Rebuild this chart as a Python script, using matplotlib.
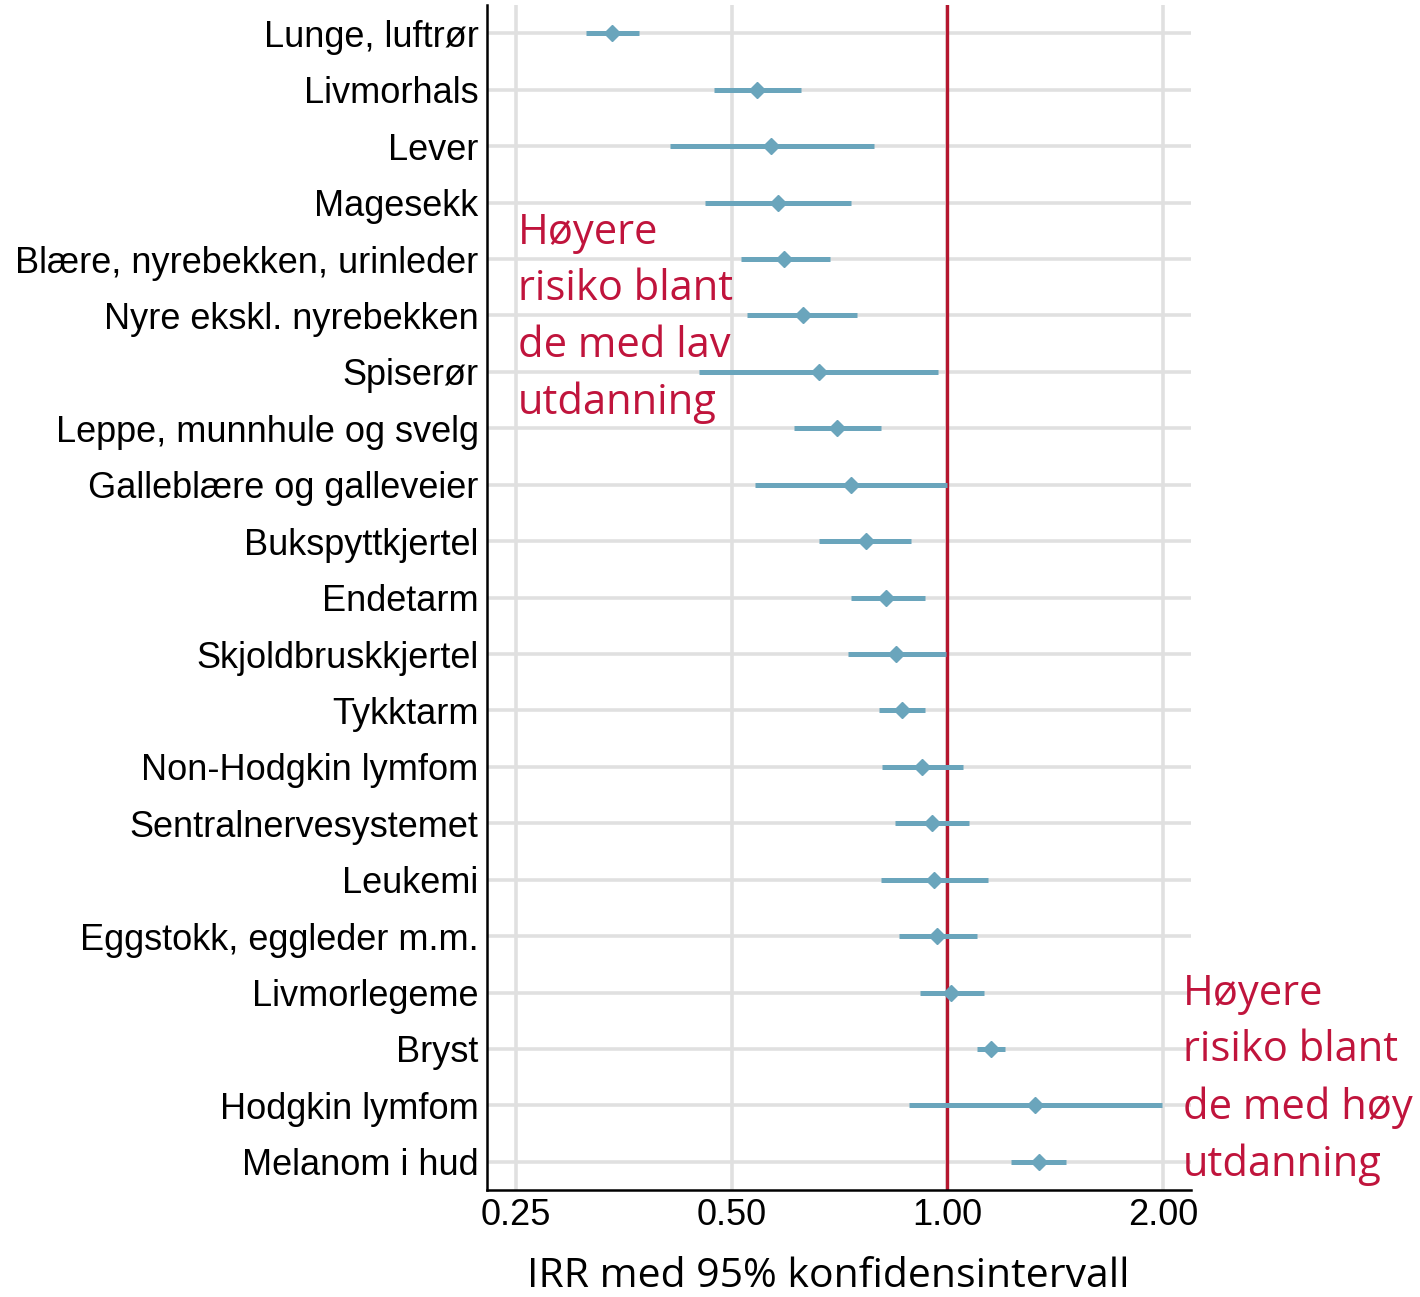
import numpy as np
import matplotlib
matplotlib.use("Agg")
import matplotlib.pyplot as plt
from matplotlib.ticker import FixedLocator, FixedFormatter, NullLocator

# data, top to bottom as in the chart
cancer_types = ["Lunge, luftrør", "Livmorhals", "Lever", "Magesekk",
                "Blære, nyrebekken, urinleder", "Nyre ekskl. nyrebekken",
                "Spiserør", "Leppe, munnhule og svelg", "Galleblære og galleveier",
                "Bukspyttkjertel", "Endetarm", "Skjoldbruskkjertel", "Tykktarm",
                "Non-Hodgkin lymfom", "Sentralnervesystemet", "Leukemi",
                "Eggstokk, eggleder m.m.", "Livmorlegeme", "Bryst",
                "Hodgkin lymfom", "Melanom i hud"]
irr = [0.341, 0.542, 0.567, 0.580, 0.591, 0.630, 0.663, 0.702, 0.735, 0.769,
       0.820, 0.849, 0.865, 0.923, 0.953, 0.959, 0.968, 1.013, 1.152, 1.326, 1.343]
ci_low = [0.313, 0.472, 0.410, 0.459, 0.515, 0.526, 0.451, 0.612, 0.540, 0.663,
          0.735, 0.726, 0.804, 0.812, 0.846, 0.807, 0.857, 0.917, 1.101, 0.885, 1.228]
ci_high = [0.372, 0.624, 0.789, 0.733, 0.687, 0.749, 0.972, 0.807, 1.000, 0.891,
           0.932, 0.997, 0.932, 1.053, 1.073, 1.141, 1.101, 1.126, 1.205, 1.990, 1.465]
x_ticks = [0.25, 0.5, 1.0, 2.0]
x_ticklabels = ["0.25", "0.50", "1.00", "2.00"]

blue = "#6AA5BC"
red = "#B5172F"
txt_red = "#C0143C"
grid = "#E0E0E0"

fig = plt.figure(figsize=(14.2, 12.97), dpi=100)
ax = fig.add_axes([0.343, 0.0825, 0.496, 0.9135])

n = len(cancer_types)
ypos = np.arange(n)[::-1]

ax.set_xscale("log", base=2)
ax.set_xlim(0.228, 2.19)
ax.set_ylim(-0.5, n - 0.5)

# grid
for t in x_ticks:
    ax.axvline(t, color=grid, lw=2.6, zorder=0)
for y in ypos:
    ax.axhline(y, color=grid, lw=2.6, zorder=0)

ax.axvline(1.0, color=red, lw=2.4, zorder=1)

ax.hlines(ypos, ci_low, ci_high, color=blue, lw=3.6, zorder=2)
ax.plot(irr, ypos, ls="none", marker="D", ms=8.5, color=blue, zorder=3)

ax.xaxis.set_major_locator(FixedLocator(x_ticks))
ax.xaxis.set_major_formatter(FixedFormatter(x_ticklabels))
ax.xaxis.set_minor_locator(NullLocator())
ax.set_yticks(ypos)
ax.set_yticklabels(cancer_types)
ax.tick_params(axis="both", length=0, labelsize=26, pad=6, labelcolor="black")
for lab in ax.get_xticklabels() + ax.get_yticklabels():
    lab.set_fontfamily("Liberation Sans")

for s in ["top", "right"]:
    ax.spines[s].set_visible(False)
for s in ["left", "bottom"]:
    ax.spines[s].set_linewidth(1.8)
    ax.spines[s].set_color("black")

ax.set_xlabel("IRR med 95% konfidensintervall", fontsize=29.5, family="Open Sans")
ax.xaxis.set_label_coords(0.485, -0.056)

left_note = "Høyere\nrisiko blant\nde med lav\nutdanning"
right_note = "Høyere\nrisiko blant\nde med høy\nutdanning"
fig.text(518 / 1420, 1 - 212 / 1297, left_note, color=txt_red, fontsize=30,
         family="Open Sans", va="top", ha="left", linespacing=1.45)
fig.text(1183 / 1420, 1 - 973 / 1297, right_note, color=txt_red, fontsize=30,
         family="Open Sans", va="top", ha="left", linespacing=1.45)

fig.savefig("out.png", dpi=100, facecolor="white")
